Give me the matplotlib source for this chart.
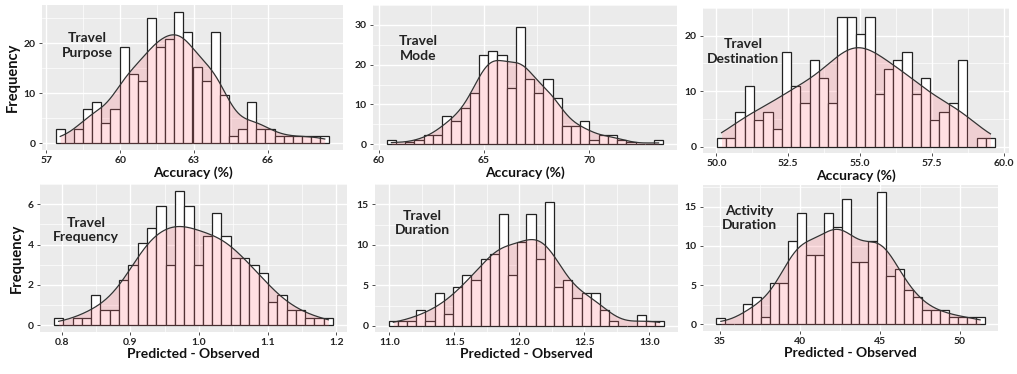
import numpy as np
import matplotlib
matplotlib.use("Agg")
import matplotlib.pyplot as plt

plt.rcParams['font.family'] = ['Lato', 'DejaVu Sans']

# ---------------- data ----------------
titles = ["Travel\nPurpose", "Travel\nMode", "Travel\nDestination",
          "Travel\nFrequency", "Travel\nDuration", "Activity\nDuration"]
xlabels = ["Accuracy (%)", "Accuracy (%)", "Accuracy (%)",
           "Predicted - Observed", "Predicted - Observed", "Predicted - Observed"]

bin_start = [57.375, 60.38, 50.02, 0.789, 10.995, 34.79]
bin_end = [68.51, 73.52, 59.69, 1.195, 13.116, 51.55]

h_purpose = [2.8, 0, 2.8, 6.9, 8.3, 4.1, 6.9, 19.3, 13.9, 12.4, 25.0, 19.3, 20.8, 26.3, 22.2,
             15.2, 12.4, 22.2, 9.7, 1.4, 2.8, 8.3, 2.8, 2.8, 1.4, 1.4, 1.4, 1.4, 1.4, 1.4]
h_mode = [1.0, 0, 0.5, 1.1, 2.2, 2.2, 7.0, 5.9, 9.2, 12.8, 22.4, 23.5, 22.4, 14.0, 29.4,
          16.3, 12.8, 16.3, 11.7, 4.5, 4.5, 5.7, 1.0, 2.3, 2.3, 1.0, 0.45, 0, 0, 1.0]
h_dest = [1.6, 1.6, 6.2, 10.9, 4.7, 6.2, 3.1, 17.1, 10.9, 7.8, 15.6, 12.4, 7.8, 23.4, 23.4,
          20.3, 23.4, 9.4, 14.0, 15.6, 17.1, 9.4, 12.4, 4.7, 6.2, 7.8, 15.6, 0, 1.6, 1.6]
h_freq = [0.37, 0, 0.37, 0.37, 1.5, 0.74, 0.74, 2.24, 2.97, 4.07, 4.82, 5.92, 2.97, 6.67, 5.92,
          2.97, 4.45, 5.55, 4.45, 3.34, 3.34, 2.97, 2.6, 1.13, 1.5, 0.74, 0.74, 0.37, 0.37, 0.37]
h_tdur = [0.58, 0.58, 0.58, 2.0, 0.58, 4.1, 1.45, 4.8, 6.25, 5.6, 8.3, 8.9, 13.85, 6.25, 10.35,
          13.85, 8.3, 15.3, 4.8, 5.6, 3.45, 4.1, 4.1, 2.0, 0.6, 0, 0, 1.3, 0.6, 0.6]
h_adur = [0.85, 0, 0, 2.6, 3.5, 0.9, 5.3, 5.3, 10.6, 14.2, 8.8, 8.8, 14.2, 12.4, 15.9,
          7.9, 7.9, 10.6, 16.9, 6.2, 7.05, 4.4, 3.5, 1.8, 1.8, 1.8, 0.9, 0.9, 0.9, 0.9]
heights = [h_purpose, h_mode, h_dest, h_freq, h_tdur, h_adur]

xticks = [[57, 60, 63, 66], [60, 65, 70], [50.0, 52.5, 55.0, 57.5, 60.0],
          [0.8, 0.9, 1.0, 1.1, 1.2], [11.0, 11.5, 12.0, 12.5, 13.0], [35, 40, 45, 50]]
xticklabels = [["57", "60", "63", "66"], ["60", "65", "70"],
               ["50.0", "52.5", "55.0", "57.5", "60.0"],
               ["0.8", "0.9", "1.0", "1.1", "1.2"],
               ["11.0", "11.5", "12.0", "12.5", "13.0"], ["35", "40", "45", "50"]]
yticks = [[0, 10, 20], [0, 10, 20, 30], [0, 10, 20], [0, 2, 4, 6], [0, 5, 10, 15], [0, 5, 10, 15]]

kde_adjust = [1.0, 1.0, 1.35, 1.0, 1.0, 1.0]

# ---------------- layout (pixel boxes: left, top, right, bottom) ----------------
W, H = 1017, 374
boxes = [(42, 5, 343, 150), (373, 5, 677, 150), (703, 8, 1009, 153),
         (40, 184, 347, 332), (375, 184, 678, 332), (703, 185, 998, 331)]
text_pos = [(0.15, 0.72), (0.148, 0.70), (0.13, 0.70),
            (0.15, 0.69), (0.155, 0.735), (0.156, 0.775)]

fig = plt.figure(figsize=(W / 100, H / 100), dpi=100)

BG = "#EBEBEB"
FILL = "#FF6F7D"

for i in range(6):
    l, t, r, b = boxes[i]
    ax = fig.add_axes([l / W, 1 - b / H, (r - l) / W, (b - t) / H])
    ax.set_zorder(2 if i < 3 else 1)
    ax.set_facecolor(BG)
    h = np.array(heights[i], dtype=float)
    n = len(h)
    edges = np.linspace(bin_start[i], bin_end[i], n + 1)
    bw_bin = edges[1] - edges[0]
    centers = 0.5 * (edges[:-1] + edges[1:])

    ax.bar(edges[:-1], h, width=bw_bin, align='edge', color='white',
           edgecolor='#222222', linewidth=0.9, zorder=2)

    # weighted gaussian kde from histogram
    w = h / h.sum()
    mu = np.sum(w * centers)
    sd = np.sqrt(np.sum(w * (centers - mu) ** 2))
    neff = h.sum()
    bw = 0.9 * sd * neff ** (-0.2) * kde_adjust[i]
    nz = np.nonzero(h)[0]
    xs = np.linspace(centers[nz[0]], centers[nz[-1]], 400)
    dens = np.sum(w[None, :] * np.exp(-0.5 * ((xs[:, None] - centers[None, :]) / bw) ** 2), axis=1) / (bw * np.sqrt(2 * np.pi))
    ys = dens * h.sum() * bw_bin
    ax.fill_between(xs, 0, ys, color=FILL, alpha=0.22, linewidth=0, zorder=3)
    ax.plot(xs, ys, color='#333333', linewidth=0.9, zorder=4)

    xr = edges[-1] - edges[0]
    ax.set_xlim(edges[0] - 0.05 * xr, edges[-1] + 0.05 * xr)
    ymax = max(h.max(), ys.max())
    ax.set_ylim(-0.05 * ymax, 1.05 * ymax)

    ax.set_xticks(xticks[i])
    ax.set_xticklabels(xticklabels[i])
    ax.set_yticks(yticks[i])
    xt = xticks[i]
    yt = yticks[i]
    ax.set_xticks([(a + c) / 2 for a, c in zip(xt[:-1], xt[1:])], minor=True)
    ax.set_yticks([(a + c) / 2 for a, c in zip(yt[:-1], yt[1:])] + [yt[-1] + (yt[1] - yt[0]) / 2], minor=True)
    ax.grid(which='major', color='white', linewidth=1.0, zorder=0)
    ax.grid(which='minor', color='white', linewidth=0.5, zorder=0)
    ax.set_axisbelow(True)
    for s in ax.spines.values():
        s.set_visible(False)
    ax.tick_params(which='major', length=2.5, color='#333333', width=0.6, pad=2,
                   labelsize=7.5, labelcolor='#222222')
    ax.tick_params(which='minor', length=0)
    for lab in ax.get_xticklabels() + ax.get_yticklabels():
        lab.set_fontweight('bold')
    ax.set_xlabel(xlabels[i], fontsize=10, fontweight='bold', labelpad=0.5, color='#111111')
    if i in (0, 3):
        ax.set_ylabel("Frequency", fontsize=10.5, fontweight='bold', labelpad=3, color='#111111')
    ax.text(text_pos[i][0], text_pos[i][1], titles[i], transform=ax.transAxes,
            ha='center', va='center', fontsize=10, fontweight='bold', color='#222222',
            linespacing=1.25, zorder=6)

fig.savefig("out.png", dpi=100)
